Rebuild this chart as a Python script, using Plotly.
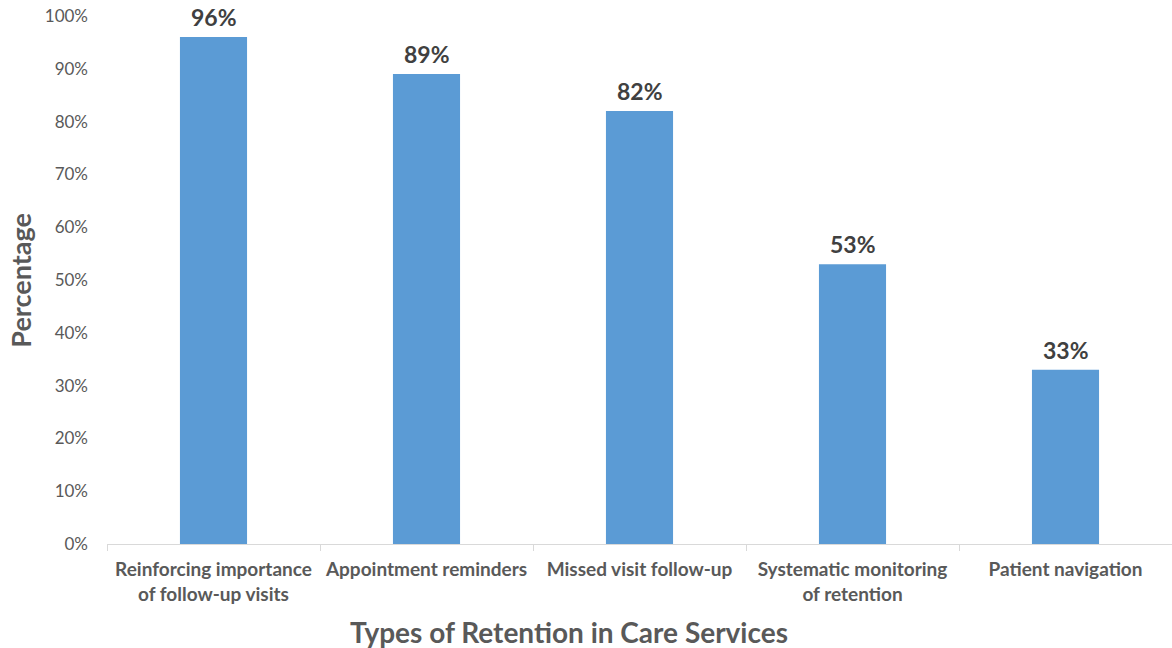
import plotly.graph_objects as go

# Share of sites offering each retention-in-care service
categories = [
    "Reinforcing importance<br>of follow-up visits",
    "Appointment reminders",
    "Missed visit follow-up",
    "Systematic monitoring<br>of retention",
    "Patient navigation",
]
percentages = [96, 89, 82, 53, 33]
y_ticks = list(range(0, 101, 10))

FONT = "Lato"
BAR_COLOR = "#5B9BD5"
GREY = "#595959"

fig = go.Figure(
    go.Bar(
        x=categories,
        y=percentages,
        marker=dict(color=BAR_COLOR, line=dict(width=0)),
        width=0.315,
        hoverinfo="x+y",
    )
)

# Value labels sitting above each bar
value_labels = [
    dict(
        x=cat, y=val, xref="x", yref="y",
        text=f"{val}%",
        showarrow=False,
        xanchor="center", yanchor="bottom",
        yshift=5,
        borderpad=0,
        font=dict(family=FONT, size=23, color="#404040", weight="bold"),
    )
    for cat, val in zip(categories, percentages)
]

axis_titles = [
    dict(
        text="Types of Retention in Care Services",
        xref="paper", yref="paper",
        x=0.434, y=-0.167,
        xanchor="center", yanchor="middle",
        showarrow=False,
        font=dict(family=FONT, size=28, color=GREY, weight="bold"),
    ),
    dict(
        text="Percentage",
        xref="paper", yref="paper",
        x=-0.082, y=0.5,
        xanchor="center", yanchor="middle",
        textangle=-90,
        showarrow=False,
        font=dict(family=FONT, size=27, color=GREY, weight="bold"),
    ),
]

fig.update_layout(
    width=1172,
    height=648,
    margin=dict(l=107, r=0, t=16, b=104),
    paper_bgcolor="white",
    plot_bgcolor="white",
    showlegend=False,
    xaxis=dict(
        showgrid=False,
        showline=True,
        linecolor="#D9D9D9",
        linewidth=1,
        ticks="outside",
        tickson="boundaries",
        ticklen=6,
        tickcolor="#D9D9D9",
        ticklabelstandoff=8,
        tickfont=dict(family=FONT, size=19, color=GREY, weight="bold"),
    ),
    yaxis=dict(
        range=[0, 100],
        tickvals=y_ticks,
        ticktext=[f"{t}%" for t in y_ticks],
        showgrid=False,
        zeroline=False,
        showline=False,
        ticks="",
        ticklabelstandoff=18,
        tickfont=dict(family=FONT, size=17, color=GREY),
    ),
    annotations=value_labels + axis_titles,
)

fig.write_html("out.html")
